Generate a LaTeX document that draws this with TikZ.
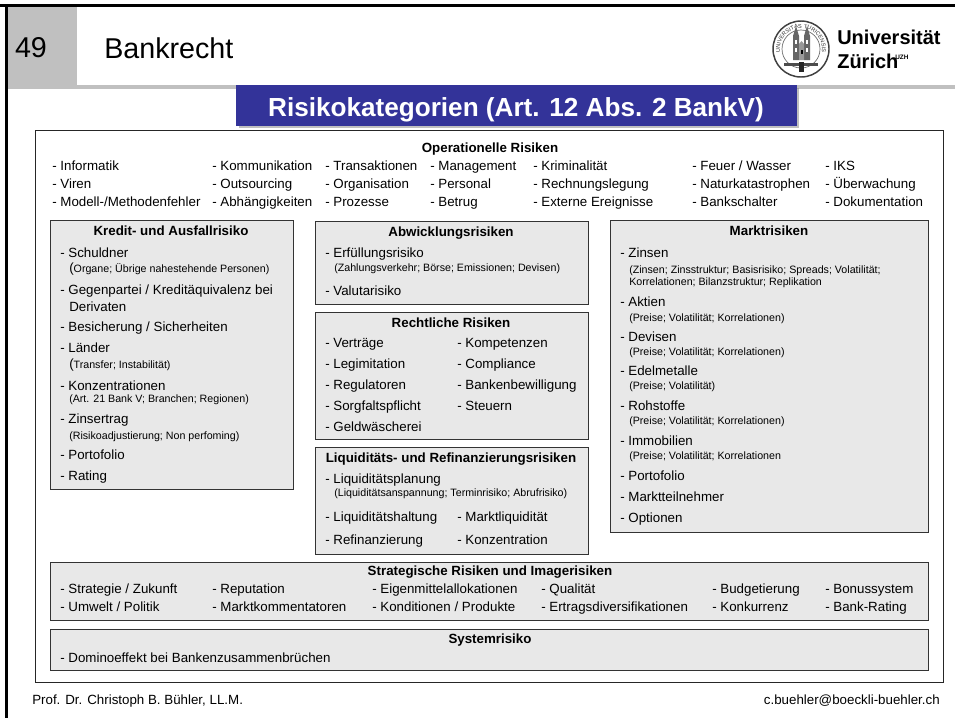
\documentclass[tikz,border=0pt]{standalone}
\usepackage{fontspec}
\setmainfont{Liberation Sans}
\usetikzlibrary{shadows,decorations.text}
\definecolor{bargray}{HTML}{C0C0C0}
\definecolor{boxgray}{HTML}{E8E8E8}
\definecolor{titleblue}{HTML}{333399}
\newcommand{\bigparen}{{\fontsize{10}{10}\selectfont(}}
\tikzset{
	item/.style={anchor=west, inner sep=0pt, text height=7.2pt, text depth=0pt, font=\fontsize{10}{11}\selectfont},
	note/.style={anchor=west, inner sep=0pt, text height=5.8pt, text depth=0pt, font=\fontsize{8}{9}\selectfont},
	head/.style={anchor=center, inner sep=0pt, text height=7.2pt, text depth=0pt, font=\fontsize{10}{11}\selectfont\bfseries},
	foot/.style={inner sep=0pt, text height=7.2pt, text depth=0pt, font=\fontsize{10}{11}\selectfont},
	riskbox/.style={fill=boxgray, draw=black!80, line width=0.7pt, drop shadow={shadow xshift=0.6pt, shadow yshift=-0.6pt, fill=gray}}
}
\begin{document}
\begin{tikzpicture}[x=0.75pt, y=-0.75pt]
		\useasboundingbox (0,0) rectangle (955,718);
		% slide frame and header
		\fill[white] (0,0) rectangle (955,718);
		\fill[bargray] (7,7) rectangle (77,89);
		\fill[bargray] (77,85) rectangle (955,89);
		\fill[black] (0,4) rectangle (955,7);
		\fill[black] (5,4) rectangle (8,718);
		\node[anchor=center, inner sep=0pt, font=\fontsize{21.5}{24}\selectfont] (number) at (31,48) {49};
		\node[anchor=west, inner sep=0pt, font=\fontsize{21.5}{24}\selectfont] (course) at (104,48) {Bankrecht};
		% logo
		\draw[black!75, line width=1.1pt] (801,49) circle (28);
		\draw[black!60, line width=0.5pt] (801,49) circle (19);
		\path[decorate, decoration={text along path, text align=center, text={|\fontsize{4.2}{5}\selectfont\color{black!80}|UNIVERSITAS TURICENSIS}}] (801,49) ++(150:21) arc (150:390:21);
		\fill[black!60] (793,36) -- (796,26) -- (799,36) -- (799,60) -- (793,60) -- cycle;
		\fill[black!60] (804,36) -- (807,26) -- (810,36) -- (810,60) -- (804,60) -- cycle;
		\fill[black!40] (799,44) -- (801.5,41) -- (804,44) -- (804,60) -- (799,60) -- cycle;
		\fill[white] (795,40) rectangle (797,44);
		\fill[white] (806,40) rectangle (808,44);
		\fill[white] (795,48) rectangle (797,52);
		\fill[white] (806,48) rectangle (808,52);
		\fill[black] (800.5,50) rectangle (802.5,54);
		\fill[black!70] (784,63) rectangle (818,66);
		\fill[black!85] (799,62) rectangle (804,72);
		\node[anchor=west, inner sep=0pt, font=\fontsize{15}{18}\selectfont\bfseries] (uni) at (837,37) {Universität};
		\node[anchor=west, inner sep=0pt, font=\fontsize{15}{18}\selectfont\bfseries] (zurich) at (837,61) {Zürich};
		\node[anchor=west, inner sep=0pt, font=\fontsize{4.8}{5}\selectfont\bfseries] (uzh) at (895,57) {UZH};
		% title bar
		\filldraw[titleblue, drop shadow={shadow xshift=2.5pt, shadow yshift=-2.5pt, fill=gray}] (236,85) rectangle (796,125);
		\node[anchor=center, inner sep=0pt, text=white, font=\fontsize{19.6}{22}\selectfont\bfseries] (title) at (516,110) {Risikokategorien (Art. 12 Abs. 2 BankV)};
		% outer frame
		\filldraw[fill=white, draw=black!85, line width=0.7pt] (35,130) rectangle (943,682);
		% Operationelle Risiken
		\node[head] (ophead) at (490,148) {Operationelle Risiken};
		\node[item] (op11) at (52,166) {- Informatik};
		\node[item] (op12) at (52,184) {- Viren};
		\node[item] (op13) at (52,202) {- Modell-/Methodenfehler};
		\node[item] (op21) at (212,166) {- Kommunikation};
		\node[item] (op22) at (212,184) {- Outsourcing};
		\node[item] (op23) at (212,202) {- Abhängigkeiten};
		\node[item] (op31) at (325,166) {- Transaktionen};
		\node[item] (op32) at (325,184) {- Organisation};
		\node[item] (op33) at (325,202) {- Prozesse};
		\node[item] (op41) at (430,166) {- Management};
		\node[item] (op42) at (430,184) {- Personal};
		\node[item] (op43) at (430,202) {- Betrug};
		\node[item] (op51) at (533,166) {- Kriminalität};
		\node[item] (op52) at (533,184) {- Rechnungslegung};
		\node[item] (op53) at (533,202) {- Externe Ereignisse};
		\node[item] (op61) at (692,166) {- Feuer / Wasser};
		\node[item] (op62) at (692,184) {- Naturkatastrophen};
		\node[item] (op63) at (692,202) {- Bankschalter};
		\node[item] (op71) at (825,166) {- IKS};
		\node[item] (op72) at (825,184) {- Überwachung};
		\node[item] (op73) at (825,202) {- Dokumentation};
		% Kredit- und Ausfallrisiko
		\filldraw[riskbox] (50,220) rectangle (293,489);
		\node[head] (krhead) at (171,231) {Kredit- und Ausfallrisiko};
		\node[item] (kr1) at (60,253) {- Schuldner};
		\node[note] (kr1n) at (69,269) {\bigparen Organe; Übrige nahestehende Personen)};
		\node[item] (kr2) at (60,290) {- Gegenpartei / Kreditäquivalenz bei};
		\node[item] (kr2b) at (69,307) {Derivaten};
		\node[item] (kr3) at (60,327) {- Besicherung / Sicherheiten};
		\node[item] (kr4) at (60,348) {- Länder};
		\node[note] (kr4n) at (69,365) {\bigparen Transfer; Instabilität)};
		\node[item] (kr5) at (60,386) {- Konzentrationen};
		\node[note] (kr5n) at (69,399) {(Art. 21 Bank V; Branchen; Regionen)};
		\node[item] (kr6) at (60,419) {- Zinsertrag};
		\node[note] (kr6n) at (69,436) {(Risikoadjustierung; Non perfoming)};
		\node[item] (kr7) at (60,455) {- Portofolio};
		\node[item] (kr8) at (60,476) {- Rating};
		% Abwicklungsrisiken
		\filldraw[riskbox] (315,221) rectangle (588,304);
		\node[head] (abhead) at (451,232) {Abwicklungsrisiken};
		\node[item] (ab1) at (325,253) {- Erfüllungsrisiko};
		\node[note] (ab1n) at (334,268) {(Zahlungsverkehr; Börse; Emissionen; Devisen)};
		\node[item] (ab2) at (325,291) {- Valutarisiko};
		% Rechtliche Risiken
		\filldraw[riskbox] (315,312) rectangle (588,439);
		\node[head] (rehead) at (451,323) {Rechtliche Risiken};
		\node[item] (re11) at (325,343) {- Verträge};
		\node[item] (re12) at (325,364) {- Legimitation};
		\node[item] (re13) at (325,385) {- Regulatoren};
		\node[item] (re14) at (325,406) {- Sorgfaltspflicht};
		\node[item] (re15) at (325,427) {- Geldwäscherei};
		\node[item] (re21) at (457,343) {- Kompetenzen};
		\node[item] (re22) at (457,364) {- Compliance};
		\node[item] (re23) at (457,385) {- Bankenbewilligung};
		\node[item] (re24) at (457,406) {- Steuern};
		% Liquiditaet
		\filldraw[riskbox] (315,447) rectangle (588,554);
		\node[head] (lihead) at (451,458) {Liquiditäts- und Refinanzierungsrisiken};
		\node[item] (li1) at (325,479) {- Liquiditätsplanung};
		\node[note] (li1n) at (334,493) {(Liquiditätsanspannung; Terminrisiko; Abrufrisiko)};
		\node[item] (li2) at (325,517) {- Liquiditätshaltung};
		\node[item] (li3) at (325,540) {- Refinanzierung};
		\node[item] (li4) at (457,517) {- Marktliquidität};
		\node[item] (li5) at (457,540) {- Konzentration};
		% Marktrisiken
		\filldraw[riskbox] (610,220) rectangle (928,532);
		\node[head] (mahead) at (769,231) {Marktrisiken};
		\node[item] (ma1) at (620,253) {- Zinsen};
		\node[note] (ma1n) at (629,270) {(Zinsen; Zinsstruktur; Basisrisiko; Spreads; Volatilität;};
		\node[note] (ma1m) at (629,282) {Korrelationen; Bilanzstruktur; Replikation};
		\node[item] (ma2) at (620,302) {- Aktien};
		\node[note] (ma2n) at (629,318) {(Preise; Volatilität; Korrelationen)};
		\node[item] (ma3) at (620,337) {- Devisen};
		\node[note] (ma3n) at (629,352) {(Preise; Volatilität; Korrelationen)};
		\node[item] (ma4) at (620,371) {- Edelmetalle};
		\node[note] (ma4n) at (629,386) {(Preise; Volatilität)};
		\node[item] (ma5) at (620,406) {- Rohstoffe};
		\node[note] (ma5n) at (629,421) {(Preise; Volatilität; Korrelationen)};
		\node[item] (ma6) at (620,441) {- Immobilien};
		\node[note] (ma6n) at (629,456) {(Preise; Volatilität; Korrelationen};
		\node[item] (ma7) at (620,476) {- Portofolio};
		\node[item] (ma8) at (620,497) {- Marktteilnehmer};
		\node[item] (ma9) at (620,518) {- Optionen};
		% Strategische Risiken
		\filldraw[riskbox] (50,562) rectangle (928,620);
		\node[head] (sthead) at (490,571) {Strategische Risiken und Imagerisiken};
		\node[item] (st11) at (60,589) {- Strategie / Zukunft};
		\node[item] (st12) at (60,607) {- Umwelt / Politik};
		\node[item] (st21) at (212,589) {- Reputation};
		\node[item] (st22) at (212,607) {- Marktkommentatoren};
		\node[item] (st31) at (372,589) {- Eigenmittelallokationen};
		\node[item] (st32) at (372,607) {- Konditionen / Produkte};
		\node[item] (st41) at (541,589) {- Qualität};
		\node[item] (st42) at (541,607) {- Ertragsdiversifikationen};
		\node[item] (st51) at (712,589) {- Budgetierung};
		\node[item] (st52) at (712,607) {- Konkurrenz};
		\node[item] (st61) at (825,589) {- Bonussystem};
		\node[item] (st62) at (825,607) {- Bank-Rating};
		% Systemrisiko
		\filldraw[riskbox] (50,629) rectangle (928,670);
		\node[head] (syhead) at (490,639) {Systemrisiko};
		\node[item] (sy1) at (60,658) {- Dominoeffekt bei Bankenzusammenbrüchen};
		% footer
		\node[foot, anchor=west] (prof) at (32,700) {Prof. Dr. Christoph B. Bühler, LL.M.};
		\node[foot, anchor=east] (mail) at (940,700) {c.buehler@boeckli-buehler.ch};
		\end{tikzpicture}
\end{document}
